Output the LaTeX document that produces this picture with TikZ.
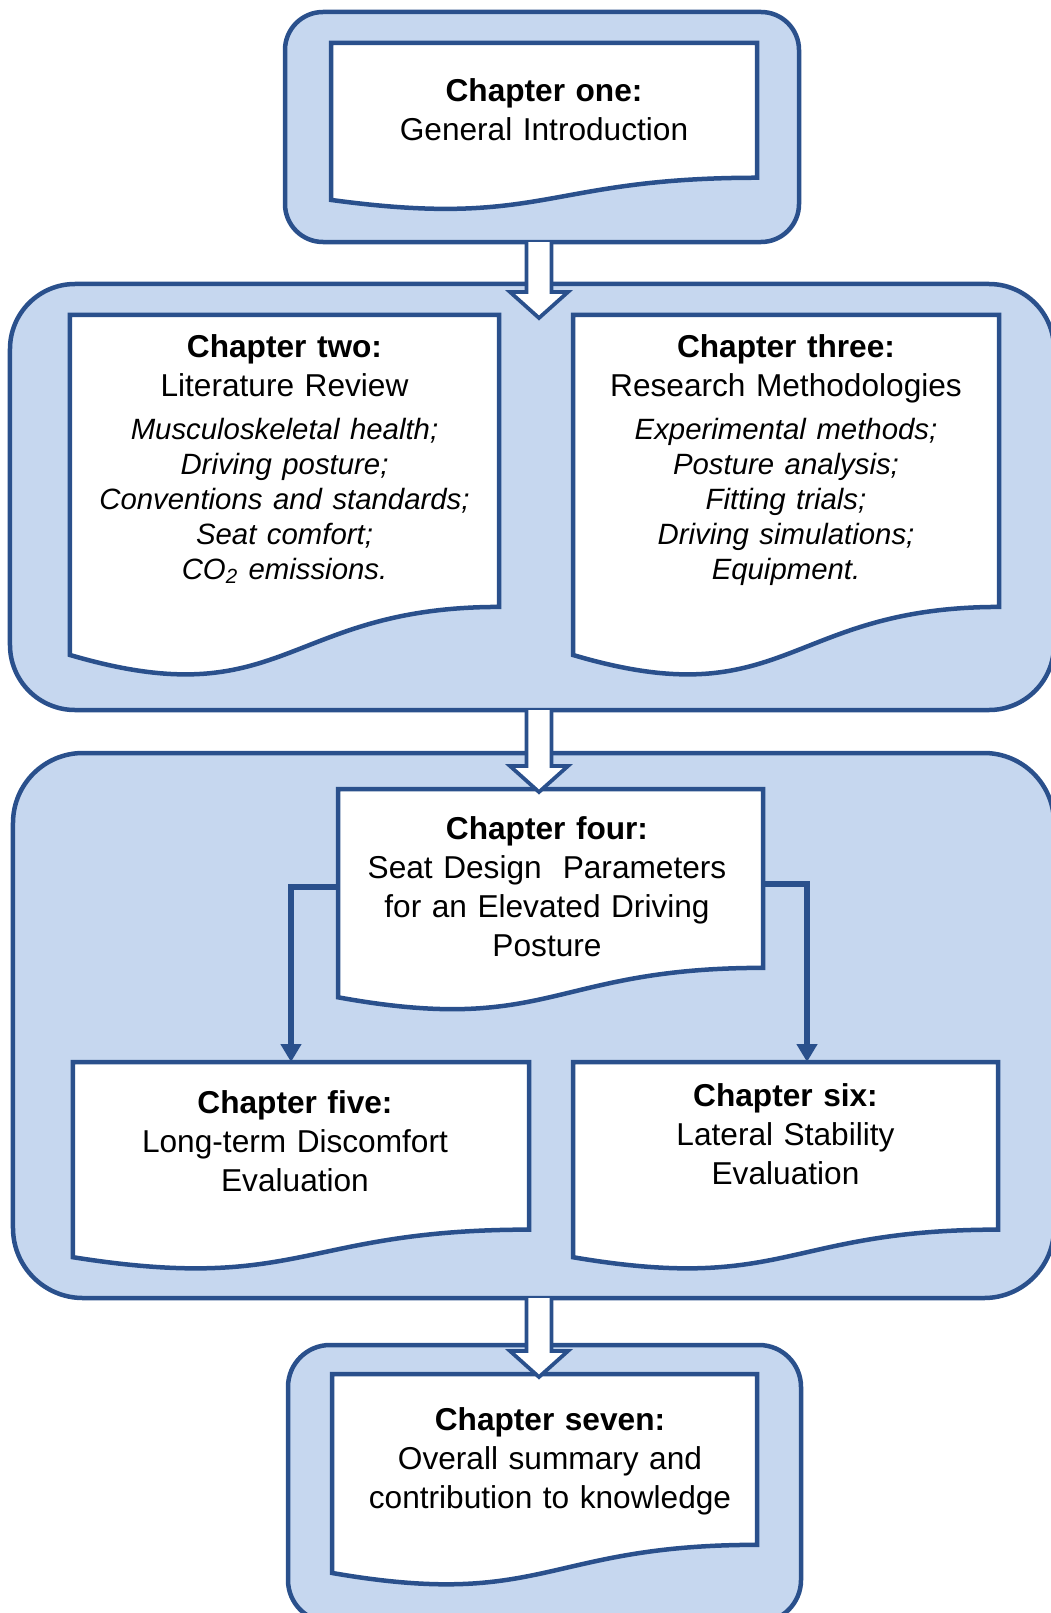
\documentclass[tikz,border=0pt]{standalone}
\usepackage{fontspec}
\setmainfont{Liberation Sans}
\usetikzlibrary{calc,arrows.meta}

\definecolor{frameblue}{RGB}{42,80,140}
\definecolor{paleblue}{RGB}{198,215,239}

\pgfdeclarelayer{back}
\pgfdeclarelayer{paper}
\pgfsetlayers{back,paper,main}

\tikzset{
  chaptergroup/.style={draw=frameblue, line width=0.9mm, fill=paleblue, inner sep=0pt, outer sep=0pt},
  page/.style={inner sep=0pt, outer sep=0pt},
  pagetext/.style={align=center, text width=88mm, inner sep=0pt, font=\fontsize{18}{22.2}\selectfont},
  docline/.style={draw=frameblue, line width=0.9mm, fill=white},
  hollow/.style={draw=frameblue, line width=0.75mm, fill=white},
  link/.style={draw=frameblue, line width=1.2mm, -{Triangle[length=3.6mm,width=4mm]}},
}

% document outline with wavy bottom edge
\newcommand{\docshape}[1]{%
\begin{pgfonlayer}{paper}
\draw[docline] (#1.north west) -- (#1.north east)
  -- ($(#1.north east)!0.802!(#1.south east)$)
  .. controls ($(#1.north)!0.802!(#1.south)$) and ($(#1.north)!1.1075!(#1.south)$)
  .. ($(#1.north west)!0.934!(#1.south west)$) -- cycle;
\end{pgfonlayer}}
% hollow block arrow: #1 start of shaft, #2 tip
\newcommand{\blockarrow}[2]{%
\draw[hollow] ($(#1)+(-12.5,0)$) -- ($(#2)+(-12.5,-23)$) -- ($(#2)+(-29,-23)$)
  -- ($(#2)+(0,3)$) -- ($(#2)+(29,-23)$) -- ($(#2)+(12.5,-23)$) -- ($(#1)+(12.5,0)$);}
\newcommand{\topics}{\itshape\fontsize{16.7}{19.9}\selectfont}

\begin{document}
\begin{tikzpicture}[x=0.2mm, y=-0.2mm]
\useasboundingbox (0,0) rectangle (1051,1613);

% groups of chapters
\begin{pgfonlayer}{back}
\node[chaptergroup, minimum width=102.8mm, minimum height=46mm, rounded corners=7.6mm] (c1) at (542,127) {};
\node[chaptergroup, minimum width=208.8mm, minimum height=85.2mm, rounded corners=13mm] (c2) at (532,497) {};
\node[chaptergroup, minimum width=208.2mm, minimum height=109mm, rounded corners=14mm] (c3) at (533.5,1025.5) {};
\node[chaptergroup, minimum width=102.6mm, minimum height=55.4mm, rounded corners=8.4mm] (c4) at (544.5,1483.5) {};
\end{pgfonlayer}

% pages
\node[page, minimum width=85.2mm, minimum height=33.6mm] (ch1) at (544,127) {};
\node[page, minimum width=85.8mm, minimum height=72.8mm] (ch2) at (284.5,497) {};
\node[page, minimum width=85.2mm, minimum height=72.8mm] (ch3) at (786,497) {};
\node[page, minimum width=85mm, minimum height=44.6mm] (ch4) at (550.5,900.5) {};
\node[page, minimum width=91.2mm, minimum height=41.8mm] (ch5) at (301,1166.5) {};
\node[page, minimum width=85mm, minimum height=41.8mm] (ch6) at (785.5,1166.5) {};
\node[page, minimum width=85mm, minimum height=42.6mm] (ch7) at (544.5,1480.5) {};
\foreach \n in {1,...,7}{
  \docshape{ch\n}
}

% text
\node[pagetext] (t1) at ($(ch1.center)+(0,-17)$) {\textbf{Chapter one:}\\ General Introduction};
\node[pagetext] (t2) at ($(ch2.center)+(0,-38)$) {\textbf{Chapter two:}\\ Literature Review\\[4.6pt]
  {\topics Musculoskeletal health;\\ Driving posture;\\ Conventions and standards;\\ Seat comfort;\\ CO\textsubscript{2} emissions.\par}};
\node[pagetext] (t3) at ($(ch3.center)+(0,-37)$) {\textbf{Chapter three:}\\ Research Methodologies\\[4.6pt]
  {\topics Experimental methods;\\ Posture analysis;\\ Fitting trials;\\ Driving simulations;\\ Equipment.\par}};
\node[pagetext] (t4) at ($(ch4.center)+(-3.5,-13.5)$) {\textbf{Chapter four:}\\ Seat Design\ \ Parameters\\ for an Elevated Driving\\ Posture};
\node[pagetext] (t5) at ($(ch5.center)+(-6,-25.5)$) {\textbf{Chapter five:}\\ Long-term Discomfort\\ Evaluation};
\node[pagetext] (t6) at ($(ch6.center)+(0,-32.5)$) {\textbf{Chapter six:}\\ Lateral Stability\\ Evaluation};
\node[pagetext] (t7) at ($(ch7.center)+(5.5,-19.5)$) {\textbf{Chapter seven:}\\ Overall summary and\\ contribution to knowledge};

% arrows between groups
\coordinate (spine) at (539,0);
\blockarrow{c1.south -| spine}{ch2.north -| spine}
\blockarrow{c2.south -| spine}{ch4.north -| spine}
\blockarrow{c3.south -| spine}{ch7.north -| spine}

% chapter four splits
\draw[link] ([yshift=2.7mm]ch4.west) -| ([xshift=-2mm]ch5.north);
\draw[link] ([yshift=3.3mm]ch4.east) -| ([xshift=4.3mm]ch6.north);
\end{tikzpicture}
\end{document}
